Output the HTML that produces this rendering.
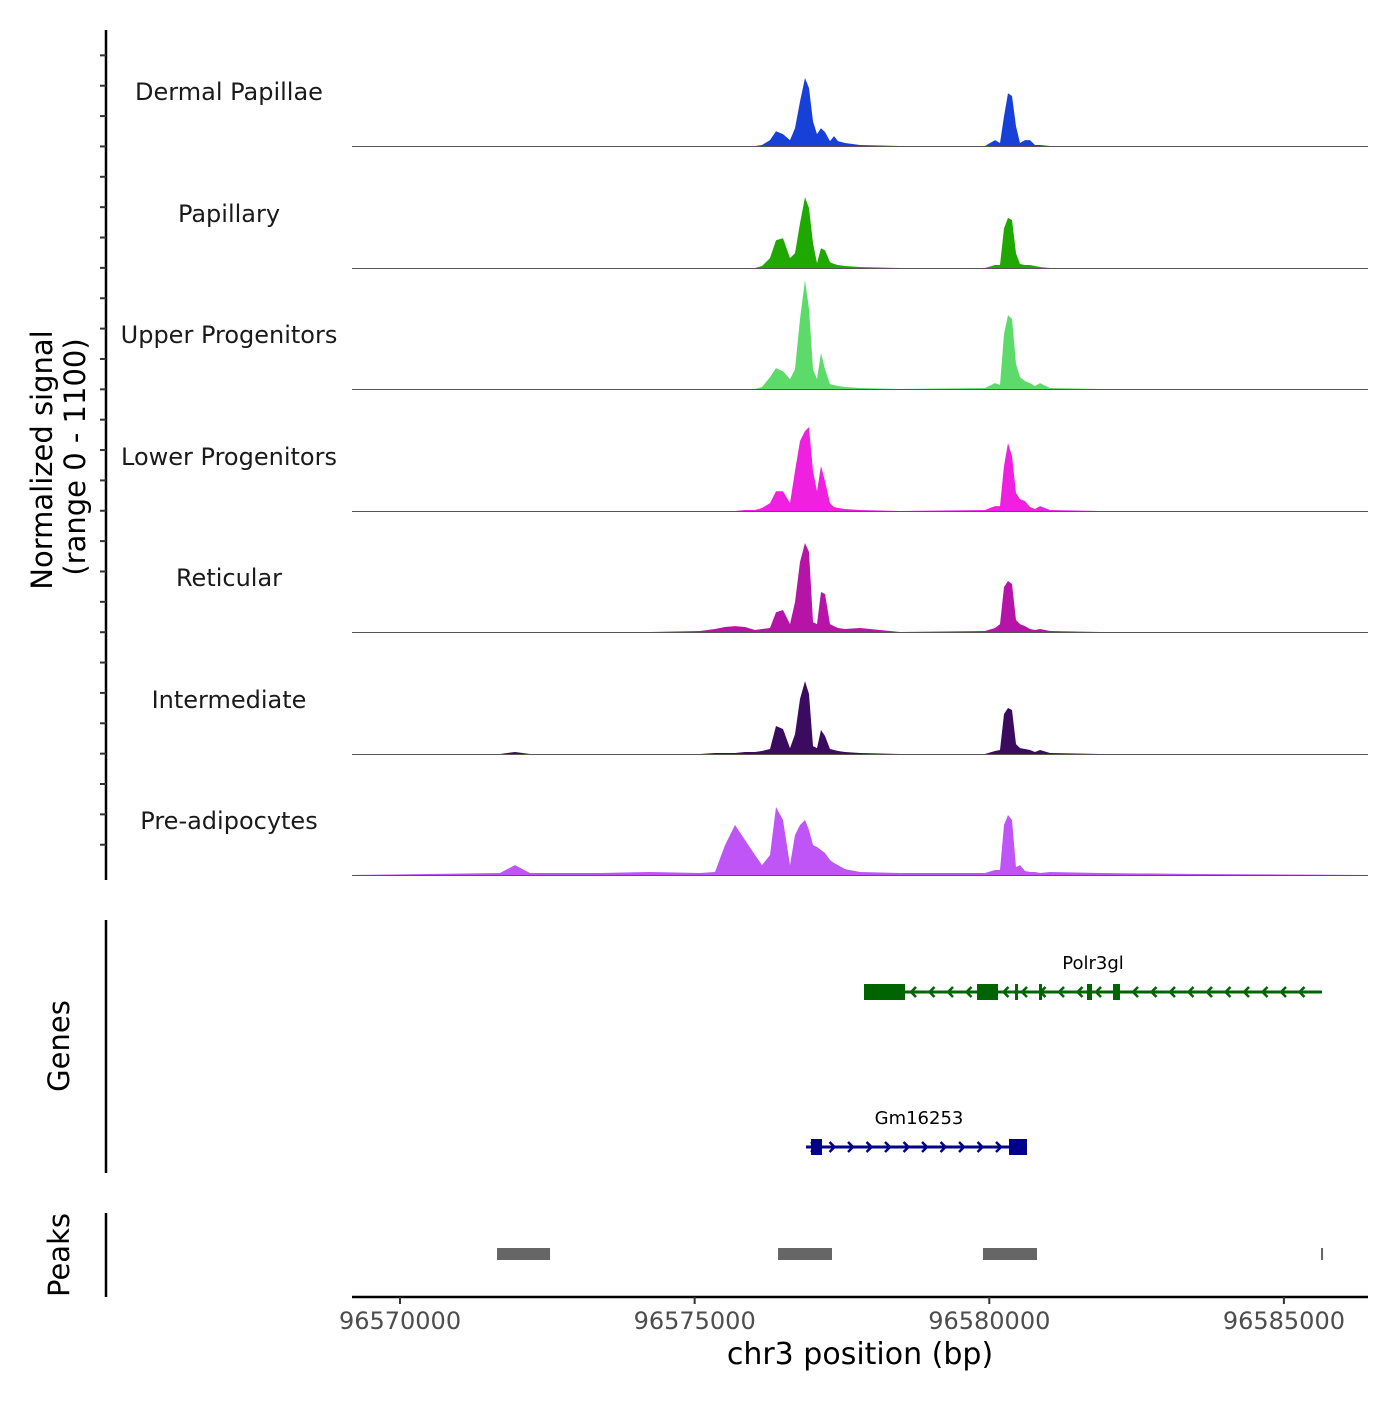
<!DOCTYPE html>
<html><head><meta charset="utf-8"><style>
html,body{margin:0;padding:0;background:#fff;}
svg text{font-family:"DejaVu Sans","Liberation Sans",sans-serif;}
</style></head><body>
<svg id="chart" width="1400" height="1400" viewBox="0 0 1400 1400" xmlns="http://www.w3.org/2000/svg">
<rect width="1400" height="1400" fill="#fff"/>
<g id="tracks"></g>
<g id="yaxis"></g>
<g id="genes"></g>
<g id="peaks"></g>
<g id="xaxis"></g>
<text transform="translate(52,460) rotate(-90)" text-anchor="middle" font-size="29" fill="#000">Normalized signal</text>
<text transform="translate(85,457) rotate(-90)" text-anchor="middle" font-size="29" fill="#000">(range 0 - 1100)</text>
<text transform="translate(69,1046) rotate(-90)" text-anchor="middle" font-size="29" fill="#000">Genes</text>
<text transform="translate(69,1255) rotate(-90)" text-anchor="middle" font-size="29" fill="#000">Peaks</text>
<text x="860" y="1364" text-anchor="middle" font-size="30" fill="#000">chr3 position (bp)</text>
</svg>
<script>
const NS="http://www.w3.org/2000/svg";
const xDomain=[96569185,96586427];
const xTicks=[96570000,96575000,96580000,96585000];
const yMax=1100;
const trackNames=["Dermal Papillae","Papillary","Upper Progenitors","Lower Progenitors","Reticular","Intermediate","Pre-adipocytes"];
const trackColors=["#1740d9","#1fa800","#5cdb6b","#f020e0","#b514a6","#3a0b5e","#c055f7"];
const positions=[96569185,96571697,96571952,96572206,96573394,96574243,96575091,96575346,96575515,96575685,96575855,96576024,96576143,96576279,96576381,96576500,96576618,96576703,96576788,96576873,96576941,96577009,96577076,96577144,96577212,96577297,96577365,96577433,96577552,96577806,96578485,96579927,96580097,96580182,96580250,96580318,96580386,96580454,96580521,96580606,96580691,96580776,96580861,96581031,96581879,96583576,96586427];
const dermalPapillae=[0,0,0,0,0,0,0,0,0,0,0,0,9,54,135,108,54,162,405,618,527,225,108,162,126,45,90,45,27,9,0,0,54,27,270,480,455,180,27,54,54,9,9,0,0,0,0];
const papillary=[0,0,0,0,0,0,0,0,0,0,0,0,18,90,252,270,90,135,405,645,545,225,45,180,162,54,36,27,18,9,0,0,27,27,360,455,436,135,36,27,27,18,9,0,0,0,0];
const upperProgenitors=[0,0,0,0,0,0,0,0,0,0,0,0,18,108,190,162,90,180,636,990,727,180,90,327,180,45,36,27,18,9,0,9,54,36,500,672,636,227,108,72,54,27,54,9,0,0,0];
const lowerProgenitors=[0,0,0,0,0,0,0,0,0,0,9,9,27,72,180,180,72,364,636,727,763,364,180,409,272,72,36,27,18,9,0,9,45,45,409,618,500,164,108,90,36,18,45,9,0,0,0];
const reticular=[0,0,0,0,0,0,9,27,45,54,45,18,27,36,180,200,72,272,636,809,727,90,72,364,345,72,54,36,27,36,0,9,36,72,409,464,436,109,72,54,27,18,27,9,0,0,0];
const intermediate=[0,0,18,0,0,0,0,9,9,9,18,18,27,45,255,227,54,180,500,663,545,72,54,218,164,45,36,27,18,9,0,0,27,36,364,418,400,90,54,45,36,18,36,9,0,0,0];
const preAdipocytes=[0,18,90,18,18,27,18,27,272,455,318,182,90,182,618,500,90,364,455,500,409,272,255,227,200,136,109,90,54,27,18,18,45,45,455,545,500,72,90,36,27,27,18,27,18,9,0];
const trackValues=[dermalPapillae,papillary,upperProgenitors,lowerProgenitors,reticular,intermediate,preAdipocytes];
const peakStarts=[96571646,96576415,96579893,96585630];
const peakEnds=[96572546,96577331,96580810,96585664];
const gene1Exons=[[96577874,96578570],[96579792,96580148],[96580437,96580487],[96580844,96580895],[96581658,96581743],[96582100,96582218]];
const gene1Range=[96577874,96585646];
const gene2Exons=[[96576975,96577161],[96580335,96580640]];
const gene2Range=[96576890,96580640];

const X0=352,X1=1368;
function xs(v){return X0+(v-xDomain[0])/(xDomain[1]-xDomain[0])*(X1-X0);}
const baselines=[146,268,389,511,632,754,875];
const trackH=121;
function ys(v,i){return baselines[i]-v/yMax*trackH;}
function mk(tag,attrs,parent){const e=document.createElementNS(NS,tag);for(const k in attrs)e.setAttribute(k,attrs[k]);parent.appendChild(e);return e;}

const tg=document.getElementById('tracks');
trackValues.forEach((vals,i)=>{
  let d="M"+xs(positions[0])+","+baselines[i];
  vals.forEach((v,j)=>{d+=" L"+xs(positions[j]).toFixed(1)+","+ys(v,i).toFixed(1);});
  d+=" L"+xs(positions[positions.length-1])+","+baselines[i]+" Z";
  const p=mk('path',{d:d,fill:trackColors[i]},tg);
  
  
  const l=mk('line',{x1:X0,x2:X1,y1:baselines[i]+0.5,y2:baselines[i]+0.5,stroke:'#555','stroke-width':1},tg);
  
  
  const t=mk('text',{x:229,y:baselines[i]-54+8,'text-anchor':'middle','font-size':24,fill:'#1a1a1a'},tg);
  t.textContent=trackNames[i];
  
  
});

const ya=document.getElementById('yaxis');
mk('line',{x1:106,x2:106,y1:30,y2:880,stroke:'#000','stroke-width':2.5},ya);
for(let k=1;k<=27;k++){
  const y=25+30.36*k;
  const tk=mk('line',{x1:100,x2:106,y1:y,y2:y,stroke:'#333','stroke-width':2},ya);
  
  
}
mk('line',{x1:106,x2:106,y1:920,y2:1173,stroke:'#000','stroke-width':2.5},ya);
mk('line',{x1:106,x2:106,y1:1213,y2:1297,stroke:'#000','stroke-width':2.5},ya);

const gg=document.getElementById('genes');
function drawGene(range,exons,y,color,dir,label,lx,name){
  const g=mk('g',{},gg);
  
  
  mk('line',{x1:xs(range[0]),x2:xs(range[1]),y1:y,y2:y,stroke:color,'stroke-width':3},g);
  const a=xs(range[0]),b=xs(range[1]);
  for(let x=a+10;x<b-4;x+=18.5){
    const d=dir<0?`M${x+5},${y-5} L${x},${y} L${x+5},${y+5}`:`M${x-5},${y-5} L${x},${y} L${x-5},${y+5}`;
    mk('path',{d:d,fill:'none',stroke:color,'stroke-width':2.5},g);
  }
  exons.forEach(e=>{
    const r=mk('rect',{x:xs(e[0]),y:y-8,width:Math.max(2,xs(e[1])-xs(e[0])),height:16,fill:color},g);
    
    
  });
  const t=mk('text',{x:lx,y:y-23,'text-anchor':'middle','font-size':18,fill:'#000'},g);
  t.textContent=label;
}
drawGene(gene1Range,gene1Exons,992,'#006400',-1,'Polr3gl',1093,'gene-polr3gl');
drawGene(gene2Range,gene2Exons,1147,'#00008b',1,'Gm16253',919,'gene-gm16253');

const pg=document.getElementById('peaks');
peakStarts.forEach((s,i)=>{
  const r=mk('rect',{x:xs(s),y:1248,width:Math.max(2,xs(peakEnds[i])-xs(s)),height:12,fill:'#666'},pg);
  
  
});

const xa=document.getElementById('xaxis');
mk('line',{x1:X0,x2:X1,y1:1297,y2:1297,stroke:'#000','stroke-width':2.5},xa);
xTicks.forEach(v=>{
  const x=xs(v);
  mk('line',{x1:x,x2:x,y1:1297,y2:1304,stroke:'#333','stroke-width':2},xa);
  const t=mk('text',{x:x,y:1329,'text-anchor':'middle','font-size':24,fill:'#4d4d4d'},xa);
  t.textContent=String(v);
  
  
});
</script>
</body></html>
